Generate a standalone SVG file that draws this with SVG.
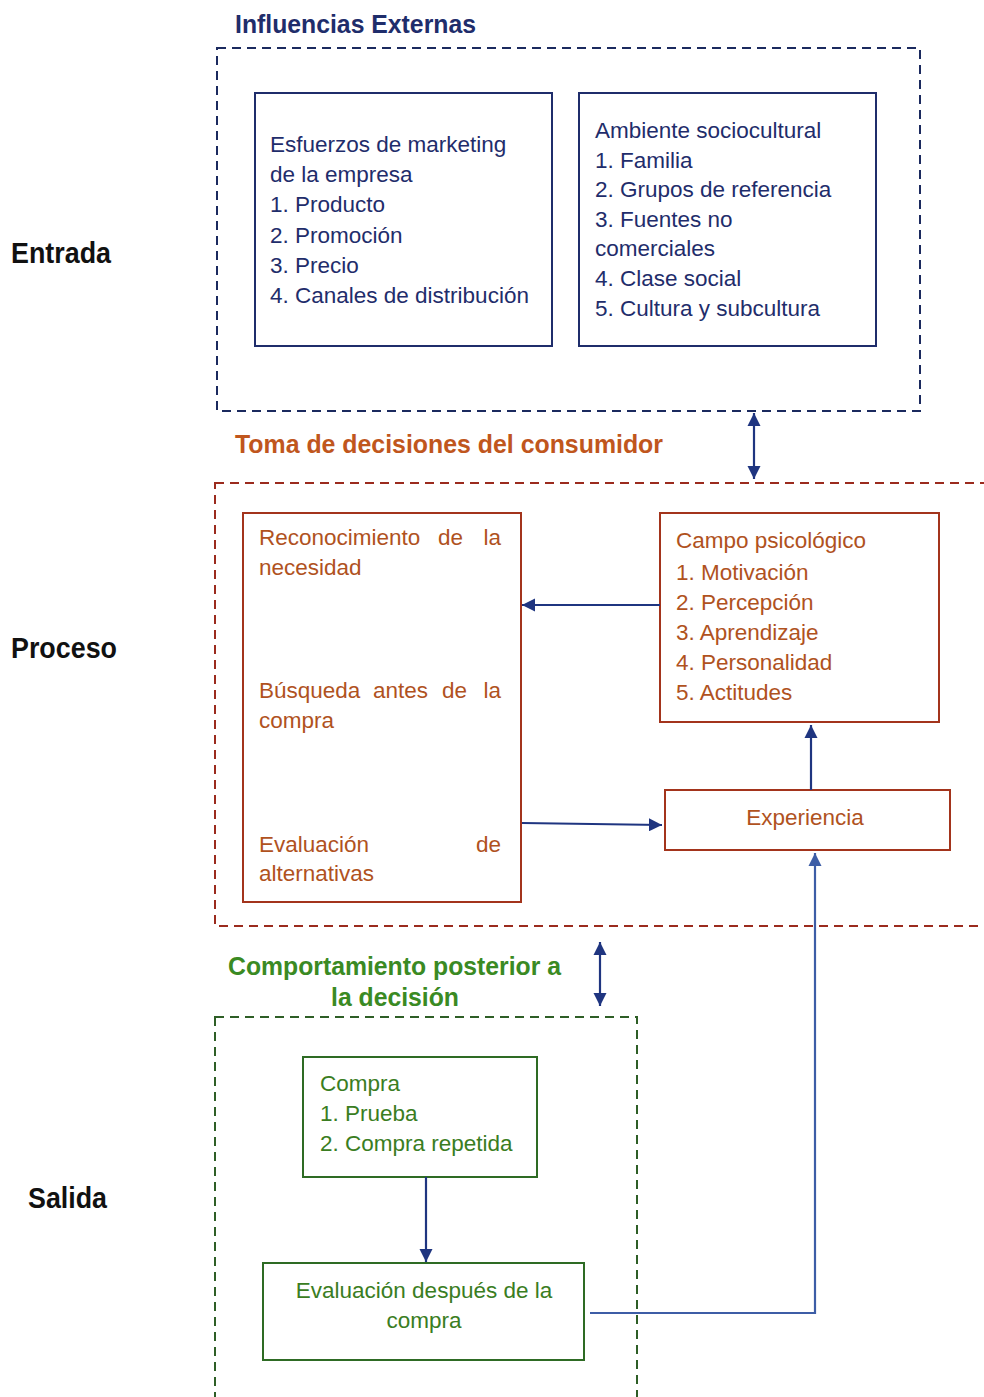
<svg xmlns="http://www.w3.org/2000/svg" width="984" height="1397" viewBox="0 0 984 1397">
<defs>
<style>
text{font-family:"Liberation Sans",Arial,sans-serif}
.lab{font-size:29px;font-weight:bold;fill:#111}
.h{font-size:26px;font-weight:bold}
.b{font-size:22.5px;fill:#1f2d6b}
.o{font-size:22.5px;fill:#b0521e}
.g{font-size:22.5px;fill:#3a7d22}
.nb{fill:#fff;stroke:#1f2d6b;stroke-width:2}
.nr{fill:#fff;stroke:#a3341c;stroke-width:2}
.ng{fill:#fff;stroke:#2e6b24;stroke-width:2}
.c{fill:none;stroke:#1f3580;stroke-width:2.2}
</style>
<marker id="ah" viewBox="0 0 10 10" refX="10" refY="5" markerWidth="6" markerHeight="6" orient="auto-start-reverse" markerUnits="strokeWidth">
<path d="M0,0 L10,5 L0,10 z" fill="#1f3580"/>
</marker>
<marker id="ah2" viewBox="0 0 10 10" refX="10" refY="5" markerWidth="6" markerHeight="6" orient="auto-start-reverse" markerUnits="strokeWidth">
<path d="M0,0 L10,5 L0,10 z" fill="#3d5da6"/>
</marker>
</defs>
<rect width="984" height="1397" fill="#fff"/>

<g id="labels">
<text class="lab" x="11" y="263" textLength="100" lengthAdjust="spacingAndGlyphs">Entrada</text>
<text class="lab" x="11" y="658" textLength="106" lengthAdjust="spacingAndGlyphs">Proceso</text>
<text class="lab" x="28" y="1208" textLength="79" lengthAdjust="spacingAndGlyphs">Salida</text>
</g>

<g id="externas">
<rect x="217" y="48" width="703" height="363" fill="none" stroke="#1b2a5e" stroke-width="2" stroke-dasharray="9 6"/>
<text class="h" x="235" y="33" fill="#1f2d6b" textLength="241" lengthAdjust="spacingAndGlyphs">Influencias Externas</text>
</g>

<g id="proceso">
<rect x="215" y="483" width="790" height="443" fill="none" stroke="#9b2b1e" stroke-width="2" stroke-dasharray="9 6"/>
<text class="h" x="235" y="453" fill="#c0561d" textLength="428" lengthAdjust="spacingAndGlyphs">Toma de decisiones del consumidor</text>
</g>

<g id="salida">
<rect x="215" y="1017" width="422" height="400" fill="none" stroke="#2e5e26" stroke-width="2" stroke-dasharray="9 6"/>
<text class="h" x="228" y="975" fill="#3a8a23" textLength="333" lengthAdjust="spacingAndGlyphs">Comportamiento posterior a</text>
<text class="h" x="331" y="1006" fill="#3a8a23" textLength="128" lengthAdjust="spacingAndGlyphs">la decisión</text>
</g>

<g id="marketing">
<rect class="nb" x="255" y="93" width="297" height="253"/>
<text class="b" x="270" y="152">Esfuerzos de marketing</text>
<text class="b" x="270" y="182">de la empresa</text>
<text class="b" x="270" y="212">1. Producto</text>
<text class="b" x="270" y="243">2. Promoción</text>
<text class="b" x="270" y="273">3. Precio</text>
<text class="b" x="270" y="303">4. Canales de distribución</text>
</g>

<g id="sociocultural">
<rect class="nb" x="579" y="93" width="297" height="253"/>
<text class="b" x="595" y="138">Ambiente sociocultural</text>
<text class="b" x="595" y="168">1. Familia</text>
<text class="b" x="595" y="197">2. Grupos de referencia</text>
<text class="b" x="595" y="227">3. Fuentes no</text>
<text class="b" x="595" y="256">comerciales</text>
<text class="b" x="595" y="286">4. Clase social</text>
<text class="b" x="595" y="316">5. Cultura y subcultura</text>
</g>

<g id="decision">
<rect class="nr" x="243" y="513" width="278" height="389"/>
<text class="o" x="259" y="545">Reconocimiento</text>
<text class="o" x="438" y="545">de</text>
<text class="o" x="501" y="545" text-anchor="end">la</text>
<text class="o" x="259" y="575">necesidad</text>
<text class="o" x="259" y="698">Búsqueda</text>
<text class="o" x="373" y="698">antes</text>
<text class="o" x="442" y="698">de</text>
<text class="o" x="501" y="698" text-anchor="end">la</text>
<text class="o" x="259" y="728">compra</text>
<text class="o" x="259" y="852">Evaluación</text>
<text class="o" x="501" y="852" text-anchor="end">de</text>
<text class="o" x="259" y="881">alternativas</text>
</g>

<g id="psicologico">
<rect class="nr" x="660" y="513" width="279" height="209"/>
<text class="o" x="676" y="548">Campo psicológico</text>
<text class="o" x="676" y="580">1. Motivación</text>
<text class="o" x="676" y="610">2. Percepción</text>
<text class="o" x="676" y="640">3. Aprendizaje</text>
<text class="o" x="676" y="670">4. Personalidad</text>
<text class="o" x="676" y="700">5. Actitudes</text>
</g>

<g id="experiencia">
<rect class="nr" x="665" y="790" width="285" height="60"/>
<text class="o" x="805" y="825" text-anchor="middle">Experiencia</text>
</g>

<g id="compra">
<rect class="ng" x="303" y="1057" width="234" height="120"/>
<text class="g" x="320" y="1091">Compra</text>
<text class="g" x="320" y="1121">1. Prueba</text>
<text class="g" x="320" y="1151">2. Compra repetida</text>
</g>

<g id="evaluacion">
<rect class="ng" x="263" y="1263" width="321" height="97"/>
<text class="g" x="424" y="1298" text-anchor="middle">Evaluación después de la</text>
<text class="g" x="424" y="1328" text-anchor="middle">compra</text>
</g>

<g id="connectors">
<line class="c" x1="754" y1="413" x2="754" y2="479" marker-start="url(#ah)" marker-end="url(#ah)"/>
<line class="c" x1="600" y1="942" x2="600" y2="1006" marker-start="url(#ah)" marker-end="url(#ah)"/>
<line class="c" x1="660" y1="605" x2="522" y2="605" marker-end="url(#ah)"/>
<line class="c" x1="522" y1="823" x2="662" y2="825" marker-end="url(#ah)"/>
<line class="c" x1="811" y1="790" x2="811" y2="725" marker-end="url(#ah)"/>
<line class="c" x1="426" y1="1177" x2="426" y2="1262" marker-end="url(#ah)"/>
<polyline fill="none" stroke="#3d5da6" stroke-width="2.2" points="590,1313 815,1313 815,853" marker-end="url(#ah2)"/>
</g>
</svg>
